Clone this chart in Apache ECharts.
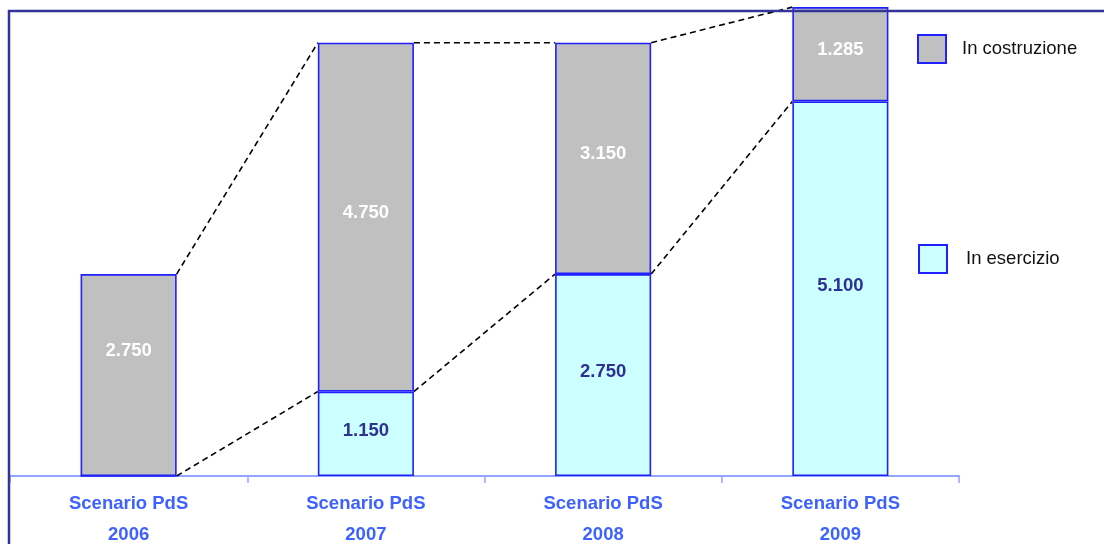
<!DOCTYPE html>
<html>
<head>
<meta charset="utf-8">
<script src="https://cdn.jsdelivr.net/npm/echarts@6/dist/echarts.min.js"></script>
<style>
  html, body { margin: 0; padding: 0; background: #ffffff; }
  #chart { width: 1104px; height: 544px; }
</style>
</head>
<body>
<div id="chart"></div>
<script>
// Scenario categories and MW values per status
const categories = ['Scenario PdS\n2006', 'Scenario PdS\n2007', 'Scenario PdS\n2008', 'Scenario PdS\n2009'];
const inEsercizio = [0, 1150, 2750, 5100];
const inCostruzione = [2750, 4750, 3150, 1285];

const BAR_RATIO = 0.405;
const FONT = 'Liberation Sans, Arial, sans-serif';
const FS = 18.5;

const fmt = v => v.toLocaleString('it-IT');

// connector segments between consecutive bars: [index, total, esercizio, nextTotal, nextEsercizio]
const connectors = [];
for (let i = 0; i < categories.length - 1; i++) {
  connectors.push([
    i,
    inEsercizio[i] + inCostruzione[i],
    inEsercizio[i],
    inEsercizio[i + 1] + inCostruzione[i + 1],
    inEsercizio[i + 1]
  ]);
}

// the first scenario has only a construction bar; its label sits a bit higher
const costruzioneData = inCostruzione.map((v, i) =>
  i === 0 ? { value: v, label: { offset: [0, -24] } } : v
);

const chart = echarts.init(document.getElementById('chart'), null, { renderer: 'canvas' });

const barBorder = { borderColor: '#1f1fff', borderWidth: 1.6 };

chart.setOption({
  animation: false,
  backgroundColor: '#ffffff',
  grid: { left: 10, right: 145, top: 6, bottom: 68, containLabel: false, outerBoundsMode: 'none' },
  legend: [
    {
      data: [{ name: 'In costruzione', icon: 'rect' }],
      left: 917, top: 34,
      padding: 0,
      itemWidth: 28, itemHeight: 28,
      selectedMode: false,
      textStyle: { fontFamily: FONT, fontSize: FS, color: '#111111', padding: [0, 0, 0, 11] }
    },
    {
      data: [{ name: 'In esercizio', icon: 'rect' }],
      left: 918, top: 244,
      padding: 0,
      itemWidth: 28, itemHeight: 28,
      selectedMode: false,
      textStyle: { fontFamily: FONT, fontSize: FS, color: '#111111', padding: [0, 0, 0, 14] }
    }
  ],
  xAxis: {
    type: 'category',
    data: categories,
    axisLine: { lineStyle: { color: '#8fa5ff', width: 2 } },
    axisTick: { show: true, length: 7, lineStyle: { color: '#8fa5ff', width: 1.5 } },
    axisLabel: {
      color: '#3d62ff',
      fontFamily: FONT,
      fontWeight: 'bold',
      fontSize: FS,
      lineHeight: 31,
      margin: 12
    }
  },
  yAxis: {
    type: 'value',
    min: 0,
    max: 6400,
    show: false,
    splitLine: { show: false }
  },
  series: [
    {
      name: 'In esercizio',
      type: 'bar',
      stack: 'tot',
      barWidth: (BAR_RATIO * 100) + '%',
      data: inEsercizio,
      itemStyle: Object.assign({ color: '#ccffff' }, barBorder),
      label: {
        show: true,
        position: 'inside',
        offset: [0, -3],
        formatter: p => p.value > 0 ? fmt(p.value) : '',
        color: '#2e3192',
        fontFamily: FONT,
        fontWeight: 'bold',
        fontSize: FS
      },
      z: 2
    },
    {
      name: 'In costruzione',
      type: 'bar',
      stack: 'tot',
      barWidth: (BAR_RATIO * 100) + '%',
      data: costruzioneData,
      itemStyle: Object.assign({ color: '#c0c0c0' }, barBorder),
      label: {
        show: true,
        position: 'inside',
        offset: [0, -4],
        formatter: p => fmt(p.value),
        color: '#ffffff',
        fontFamily: FONT,
        fontWeight: 'bold',
        fontSize: FS
      },
      z: 2
    },
    {
      // dashed connectors between top and split edges of consecutive bars
      type: 'custom',
      data: connectors,
      silent: true,
      encode: { x: 0, y: 1 },
      z: 1,
      renderItem: function (params, api) {
        const i = api.value(0);
        const half = api.size([1, 0])[0] * BAR_RATIO / 2;
        const a1 = api.coord([i, api.value(1)]);
        const b1 = api.coord([i + 1, api.value(3)]);
        const a2 = api.coord([i, api.value(2)]);
        const b2 = api.coord([i + 1, api.value(4)]);
        const style = { stroke: '#000000', lineWidth: 1.6, lineDash: [6, 4] };
        return {
          type: 'group',
          children: [
            { type: 'line', shape: { x1: a1[0] + half, y1: a1[1], x2: b1[0] - half, y2: b1[1] }, style: style },
            { type: 'line', shape: { x1: a2[0] + half, y1: a2[1], x2: b2[0] - half, y2: b2[1] }, style: style }
          ]
        };
      }
    }
  ],
  graphic: [
    { type: 'line', shape: { x1: 8, y1: 11, x2: 1104, y2: 11 }, style: { stroke: '#333399', lineWidth: 2.5 }, z: 10 },
    { type: 'line', shape: { x1: 9, y1: 10, x2: 9, y2: 544 }, style: { stroke: '#333399', lineWidth: 2.5 }, z: 10 }
  ]
});
</script>
</body>
</html>
